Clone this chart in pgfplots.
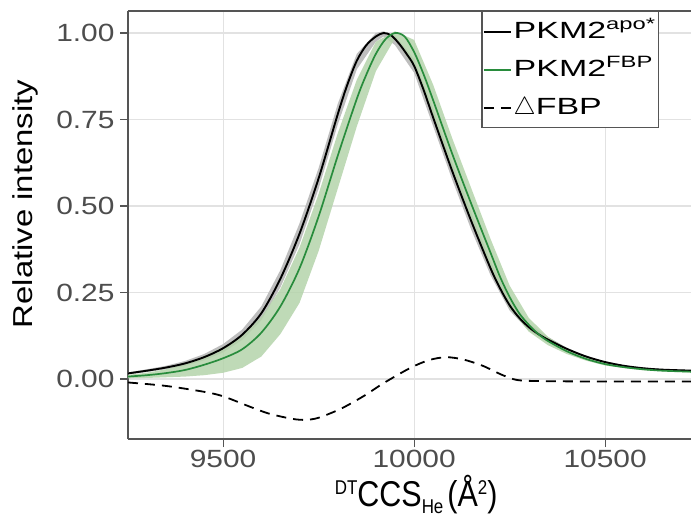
\documentclass[border=0pt]{standalone}
\usepackage{fontspec}
\setmainfont{Liberation Sans}[FakeStretch=1.2]
\newfontfamily\legfont{Liberation Sans}[FakeStretch=1.45]
\newfontfamily\xlabfont{Liberation Sans}[FakeStretch=0.85]
\usepackage{pgfplots}
\pgfplotsset{compat=1.18}
\definecolor{axgray}{RGB}{85,85,85}
\definecolor{tickgray}{RGB}{77,77,77}
\definecolor{gridgray}{RGB}{226,226,226}
\definecolor{pkgreen}{RGB}{40,140,60}
\definecolor{bandgreen}{RGB}{180,211,170}
\definecolor{bandgray}{RGB}{190,190,190}
\begin{document}
\begin{tikzpicture}
\begin{axis}[name=ax, width=565bp, height=428bp, scale only axis,
  xmin=9251, xmax=10730, ymin=-0.1734, ymax=1.0636,
  axis x line*=box, axis y line*=left,
  axis line style={axgray, line width=1.6bp},
  scaled x ticks=false, scaled y ticks=false,
  xtick={9500,10000,10500}, xticklabels={9500,10000,10500},
  ytick={0,0.25,0.5,0.75,1}, yticklabels={0.00,0.25,0.50,0.75,1.00},
  xtick pos=lower, ytick pos=left,
  tick align=outside, major tick length=8bp,
  tick style={axgray, line width=1.2bp},
  grid=major, major grid style={gridgray, line width=1.2bp},
  ticklabel style={font=\fontsize{25}{30}\selectfont, text=tickgray},
  yticklabel style={xshift=-2bp},
  xlabel={{\fontsize{20}{20}\selectfont\raisebox{11.5bp}{DT}}CCS{\fontsize{20}{20}\selectfont\raisebox{-7.5bp}{He}}\hspace{4bp}(Å{\fontsize{20}{20}\selectfont\raisebox{11.5bp}{2}})},
  ylabel={Relative intensity},
  xlabel style={font=\xlabfont\fontsize{36}{40}\selectfont, at={(axis description cs:0.51,0)}, anchor=base, yshift=-67bp, inner sep=0pt},
  ylabel style={font=\fontsize{27.5}{32}\selectfont, at={(axis description cs:-0.205,0.549)}, anchor=north, inner sep=0pt},
  legend style={at={(axis description cs:0.625,1)}, anchor=north west, draw=axgray, line width=1.4bp,
    font=\legfont\fontsize{23.5}{28}\selectfont, inner sep=1bp,
    nodes={inner xsep=2bp, inner ysep=6.5bp, text height=19bp, text depth=6bp}},
  legend cell align=left,
  legend image code/.code={\draw[#1,line width=1.9bp] (0bp,0bp) -- (27bp,0bp);},
]
% grey band around PKM2 apo*
\addplot[fill=bandgray, draw=none, forget plot] coordinates {
(9250,0.019)(9300,0.028)(9350,0.038)(9400,0.052)(9450,0.072)(9500,0.101)(9550,0.143)(9600,0.21)(9650,0.315)(9700,0.45)(9750,0.61)(9800,0.795)(9850,0.94)(9900,1.0)(9920,1.005)(9950,0.992)(10000,0.925)(10050,0.78)(10100,0.625)(10150,0.48)(10200,0.34)(10250,0.23)(10300,0.16)(10350,0.122)(10400,0.09)(10450,0.066)(10500,0.05)(10550,0.039)(10600,0.033)(10650,0.029)(10730,0.026)
(10730,0.022)(10650,0.025)(10600,0.029)(10550,0.035)(10500,0.044)(10450,0.058)(10400,0.08)(10350,0.108)(10300,0.14)(10250,0.198)(10200,0.3)(10150,0.43)(10100,0.575)(10050,0.73)(10000,0.885)(9950,0.965)(9920,0.99)(9900,0.975)(9850,0.895)(9800,0.735)(9750,0.55)(9700,0.39)(9650,0.265)(9600,0.17)(9550,0.113)(9500,0.077)(9450,0.054)(9400,0.038)(9350,0.028)(9300,0.02)(9250,0.013)
} -- cycle;
% green band around PKM2 FBP
\addplot[fill=bandgreen, draw=none, fill opacity=0.85, forget plot] coordinates {
(9250,0.012)(9300,0.018)(9350,0.028)(9400,0.043)(9450,0.066)(9500,0.092)(9550,0.126)(9600,0.179)(9650,0.26)(9700,0.38)(9750,0.535)(9800,0.71)(9850,0.865)(9900,0.975)(9950,1.005)(10000,0.98)(10050,0.85)(10100,0.695)(10150,0.55)(10200,0.405)(10250,0.27)(10300,0.177)(10350,0.122)(10400,0.088)(10450,0.063)(10500,0.047)(10600,0.031)(10730,0.024)
(10730,0.018)(10600,0.025)(10500,0.039)(10450,0.053)(10400,0.072)(10350,0.098)(10300,0.137)(10250,0.205)(10200,0.325)(10150,0.46)(10100,0.605)(10050,0.755)(10000,0.9)(9950,0.985)(9900,0.89)(9850,0.73)(9800,0.55)(9750,0.37)(9700,0.22)(9650,0.13)(9600,0.065)(9550,0.032)(9500,0.018)(9450,0.011)(9400,0.007)(9350,0.005)(9300,0.003)(9250,0.002)
} -- cycle;
\addplot[black, line width=1.9bp, smooth] coordinates {
(9250,0.016)(9300,0.024)(9350,0.033)(9400,0.045)(9450,0.063)(9500,0.089)(9550,0.128)(9600,0.19)(9650,0.29)(9700,0.42)(9750,0.58)(9800,0.765)(9825,0.85)(9850,0.92)(9875,0.965)(9900,0.99)(9920,1.0)(9940,0.993)(9960,0.97)(9980,0.94)(10000,0.905)(10025,0.835)(10050,0.755)(10100,0.6)(10150,0.455)(10200,0.32)(10225,0.262)(10250,0.213)(10275,0.177)(10300,0.15)(10325,0.13)(10350,0.114)(10400,0.087)(10450,0.065)(10500,0.049)(10550,0.038)(10600,0.031)(10650,0.027)(10730,0.024)
};
\addlegendentry{PKM2\textsuperscript{apo*}}
\addplot[pkgreen, line width=1.7bp, smooth] coordinates {
(9250,0.007)(9300,0.011)(9350,0.017)(9400,0.026)(9450,0.041)(9500,0.06)(9550,0.086)(9600,0.134)(9650,0.21)(9700,0.32)(9750,0.47)(9800,0.645)(9850,0.81)(9875,0.88)(9900,0.94)(9925,0.982)(9950,1.0)(9975,0.99)(10000,0.945)(10025,0.88)(10050,0.805)(10100,0.65)(10150,0.505)(10200,0.365)(10225,0.295)(10250,0.237)(10275,0.19)(10300,0.157)(10325,0.13)(10350,0.11)(10400,0.08)(10450,0.058)(10500,0.043)(10550,0.034)(10600,0.028)(10650,0.024)(10730,0.021)
};
\addlegendentry{PKM2\textsuperscript{FBP}}
\addplot[black, line width=1.8bp, dash pattern=on 10bp off 7bp, smooth] coordinates {
(9251,-0.01)(9350,-0.02)(9450,-0.037)(9500,-0.05)(9570,-0.08)(9620,-0.1)(9680,-0.115)(9715,-0.118)(9750,-0.112)(9810,-0.085)(9870,-0.048)(9920,-0.012)(9990,0.032)(10040,0.055)(10085,0.063)(10130,0.056)(10180,0.038)(10230,0.012)(10270,-0.003)(10330,-0.006)(10450,-0.007)(10730,-0.007)
};
\addlegendentry{$\bigtriangleup$FBP}
\end{axis}
\pgfresetboundingbox
\useasboundingbox ([shift={(-128bp,-78bp)}]ax.south west) rectangle ([shift={(563bp,439bp)}]ax.south west);
\end{tikzpicture}
\end{document}
